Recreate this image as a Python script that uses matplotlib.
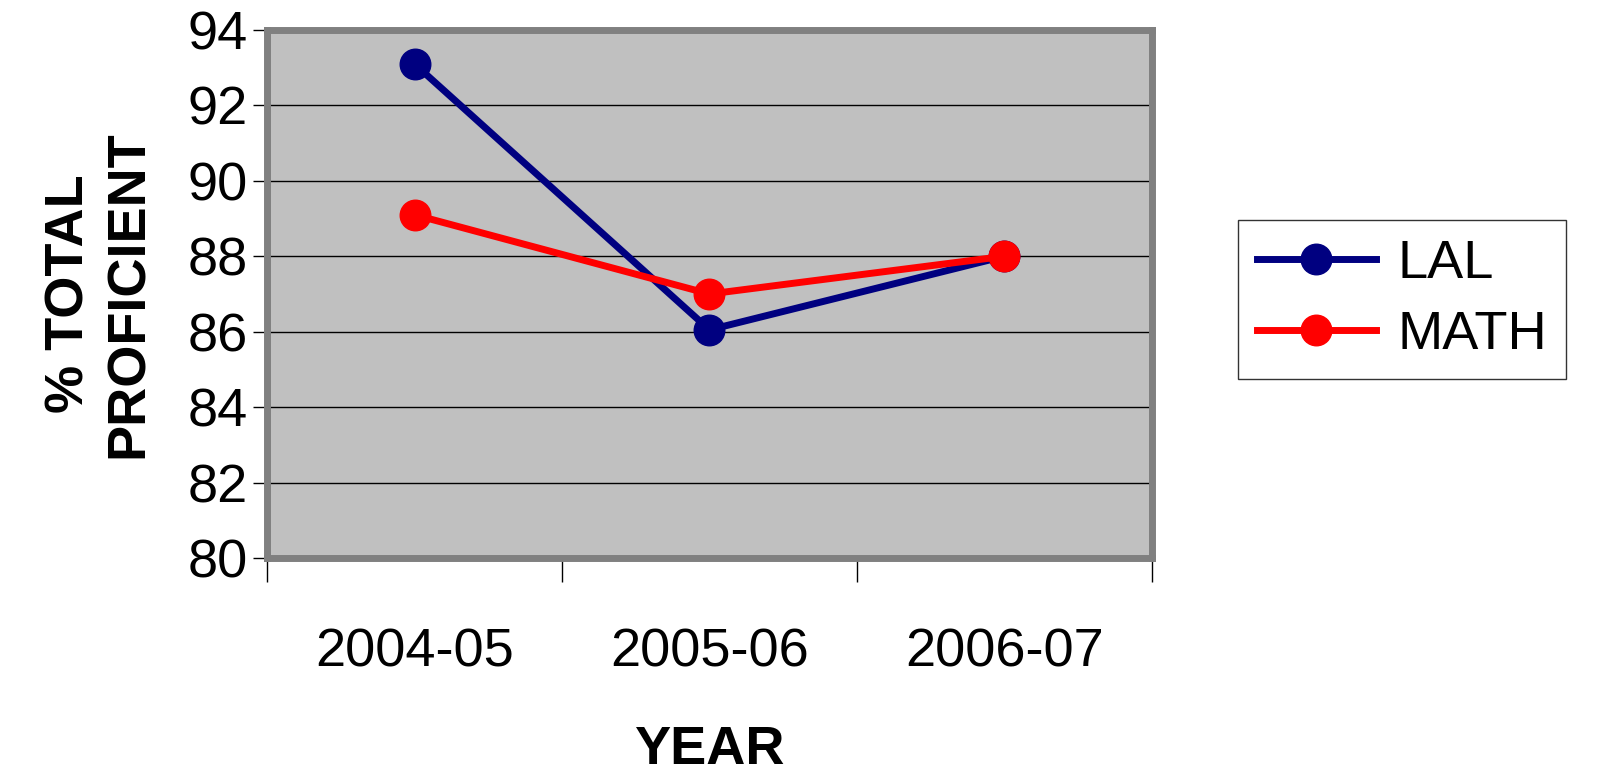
import matplotlib
matplotlib.use('Agg')
import matplotlib.pyplot as plt

years = ['2004-05', '2005-06', '2006-07']
lal = [93.1, 86.05, 88.0]
math_vals = [89.1, 87.0, 88.0]

plt.rcParams['font.family'] = ['Liberation Sans', 'DejaVu Sans']

fig = plt.figure(figsize=(16.01, 7.79), dpi=100)
ax = fig.add_axes([0.1668, 0.2837, 0.5527, 0.6778])
ax.set_facecolor('#C0C0C0')

x = [i + 0.5 for i in range(len(years))]
ax.plot(x, lal, color='#000080', linewidth=5, marker='o', markersize=22,
        label='LAL', zorder=3)
ax.plot(x, math_vals, color='#FF0000', linewidth=5, marker='o', markersize=22,
        label='MATH', zorder=3)

ax.set_xlim(0, 3)
ax.set_ylim(80, 94)
ax.set_yticks(range(80, 95, 2))
ax.yaxis.grid(True, color='black', linewidth=1)
ax.set_axisbelow(True)
ax.tick_params(axis='y', labelsize=39, length=10, width=1, pad=4)

ax.set_xticks([0, 1, 2, 3])
ax.set_xticklabels([])
ax.set_xticks(x, minor=True)
ax.set_xticklabels(years, minor=True)
ax.tick_params(axis='x', which='major', length=17, width=1)
ax.tick_params(axis='x', which='minor', length=0, labelsize=39, pad=50)

for side in ['top', 'right', 'bottom', 'left']:
    ax.spines[side].set_color('#808080')
    ax.spines[side].set_linewidth(5)

ax.set_xlabel('YEAR', fontsize=39, fontweight='bold', labelpad=34)
ax.set_ylabel('% TOTAL\nPROFICIENT', fontsize=39, fontweight='bold', labelpad=24,
              linespacing=1.25)

leg = fig.legend(loc='center', bbox_to_anchor=(0.8756, 0.6155), fontsize=39,
                 frameon=True, fancybox=False, edgecolor='black',
                 handlelength=2.2, handletextpad=0.4, borderpad=0.35,
                 labelspacing=0.4, borderaxespad=0)
leg.get_frame().set_linewidth(1)

fig.savefig('out.png', dpi=100, facecolor='white')
